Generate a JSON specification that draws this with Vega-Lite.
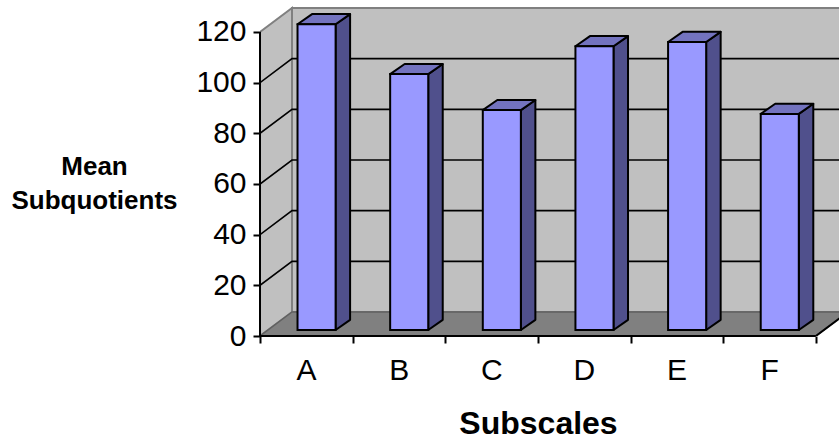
{
  "$schema": "https://vega.github.io/schema/vega-lite/v6.json",
  "autosize": {"type": "none"},
  "padding": {"left": 260, "top": 6, "right": 0, "bottom": 103},
  "width": 579,
  "height": 330,
  "background": "white",
  "view": {"stroke": null},
  "params": [
    {"name": "wallDx", "value": 0.3455},
    {"name": "wallDy", "value": 9.47},
    {"name": "barDx", "value": 0.1565},
    {"name": "barDy", "value": 4.0},
    {"name": "barBase", "value": 2.37},
    {"name": "barStart", "value": 0.405},
    {"name": "barWidth", "value": 0.411}
  ],
  "datasets": {
    "scores": [
      {"subscale": "A", "position": 0, "mean": 120.7},
      {"subscale": "B", "position": 1, "mean": 101},
      {"subscale": "C", "position": 2, "mean": 86.8},
      {"subscale": "D", "position": 3, "mean": 112},
      {"subscale": "E", "position": 4, "mean": 113.7},
      {"subscale": "F", "position": 5, "mean": 85.3}
    ],
    "grid": [{"level": 20}, {"level": 40}, {"level": 60}, {"level": 80}, {"level": 100}],
    "box": [{"origin": 0, "low": 0, "high": 120, "right": 6}]
  },
  "layer": [
    {
      "data": {"name": "box"},
      "transform": [{"calculate": "[0,1]", "as": "t"}, {"flatten": ["t"]},
        {"calculate": "datum.t * wallDx", "as": "px"},
        {"calculate": "datum.low + datum.t * wallDy", "as": "py"},
        {"calculate": "datum.high + datum.t * wallDy", "as": "py2"}],
      "mark": {"type": "area", "orient": "vertical", "color": "#c0c0c0", "stroke": "#808080", "strokeWidth": 2, "clip": true},
      "encoding": {
        "x": {"field": "px", "type": "quantitative",
          "scale": {"domain": [0, 6.25], "nice": false, "zero": false},
          "axis": {"values": [0, 1, 2, 3, 4, 5, 6], "grid": false, "zindex": 2, "domain": false,
            "labelExpr": "['A','B','C','D','E','F',''][datum.value]",
            "labelOffset": 46, "labelFlush": false, "labelOverlap": false, "labelFont": "Liberation Sans", "labelFontSize": 30, "labelColor": "black", "labelPadding": 12,
            "tickColor": "black", "tickSize": 7, "tickWidth": 2,
            "title": "Subscales", "titleFont": "Liberation Sans", "titleFontSize": 32, "titleFontWeight": "bold", "titleColor": "black",
            "titleX": 278, "titleY": 97, "titleAlign": "center", "titleBaseline": "alphabetic"}},
        "y": {"field": "py", "type": "quantitative",
          "scale": {"domain": [0, 130.26], "nice": false, "zero": false},
          "axis": {"values": [0, 20, 40, 60, 80, 100, 120], "grid": false, "zindex": 2, "domain": false,
            "labelFont": "Liberation Sans", "labelFontSize": 30, "labelColor": "black", "labelPadding": 7,
            "tickColor": "black", "tickSize": 7, "tickWidth": 2,
            "title": ["Mean", "Subquotients"], "titleFont": "Liberation Sans", "titleFontSize": 26, "titleFontWeight": "bold", "titleColor": "black", "titleLineHeight": 34,
            "titleAngle": 0, "titleX": -166, "titleY": 168, "titleAlign": "center", "titleBaseline": "alphabetic"}},
        "y2": {"field": "py2"}
      }
    },
    {
      "data": {"name": "box"},
      "transform": [{"calculate": "datum.low + wallDy", "as": "py"}, {"calculate": "datum.high + wallDy", "as": "py2"},
        {"calculate": "wallDx", "as": "px"}, {"calculate": "datum.right + wallDx", "as": "px2"}],
      "mark": {"type": "rect", "color": "#c0c0c0", "stroke": "#808080", "strokeWidth": 2, "clip": true},
      "encoding": {
        "x": {"field": "px", "type": "quantitative", "scale": {"domain": [0, 6.25], "nice": false, "zero": false}},
        "x2": {"field": "px2"},
        "y": {"field": "py", "type": "quantitative", "scale": {"domain": [0, 130.26], "nice": false, "zero": false}},
        "y2": {"field": "py2"}
      }
    },
    {
      "data": {"name": "box"},
      "transform": [{"calculate": "[0,1]", "as": "t"}, {"flatten": ["t"]},
        {"calculate": "datum.low + datum.t * wallDy", "as": "py"},
        {"calculate": "datum.t * wallDx", "as": "px"},
        {"calculate": "datum.right + datum.t * wallDx", "as": "px2"}],
      "mark": {"type": "area", "orient": "horizontal", "color": "#808080", "stroke": "#606060", "strokeWidth": 1.5, "clip": true},
      "encoding": {
        "y": {"field": "py", "type": "quantitative", "scale": {"domain": [0, 130.26], "nice": false, "zero": false}},
        "x": {"field": "px", "type": "quantitative", "scale": {"domain": [0, 6.25], "nice": false, "zero": false}},
        "x2": {"field": "px2"}
      }
    },
    {
      "data": {"name": "grid"},
      "transform": [{"calculate": "[0,1,2]", "as": "t"}, {"flatten": ["t"]},
        {"calculate": "datum.t == 0 ? 0 : datum.t == 1 ? wallDx : 6.5", "as": "px"},
        {"calculate": "datum.t == 0 ? datum.level : datum.level + wallDy", "as": "py"}],
      "mark": {"type": "line", "color": "black", "strokeWidth": 1.6, "clip": true},
      "encoding": {
        "x": {"field": "px", "type": "quantitative", "scale": {"domain": [0, 6.25], "nice": false, "zero": false}},
        "y": {"field": "py", "type": "quantitative", "scale": {"domain": [0, 130.26], "nice": false, "zero": false}},
        "detail": {"field": "level"},
        "order": {"field": "t"}
      }
    },
    {
      "data": {"name": "box"},
      "transform": [{"calculate": "[0,1]", "as": "t"}, {"flatten": ["t"]},
        {"calculate": "datum.right + datum.t * wallDx", "as": "px"},
        {"calculate": "datum.low + datum.t * wallDy", "as": "py"}],
      "mark": {"type": "line", "color": "black", "strokeWidth": 2, "clip": true},
      "encoding": {
        "x": {"field": "px", "type": "quantitative", "scale": {"domain": [0, 6.25], "nice": false, "zero": false}},
        "y": {"field": "py", "type": "quantitative", "scale": {"domain": [0, 130.26], "nice": false, "zero": false}},
        "order": {"field": "t"}
      }
    },
    {
      "data": {"name": "box"},
      "mark": {"type": "rule", "color": "black", "strokeWidth": 2},
      "encoding": {
        "x": {"field": "origin", "type": "quantitative", "scale": {"domain": [0, 6.25], "nice": false, "zero": false}},
        "y": {"field": "low", "type": "quantitative", "scale": {"domain": [0, 130.26], "nice": false, "zero": false}},
        "y2": {"field": "high"}
      }
    },
    {
      "data": {"name": "box"},
      "mark": {"type": "rule", "color": "black", "strokeWidth": 2},
      "encoding": {
        "y": {"field": "low", "type": "quantitative", "scale": {"domain": [0, 130.26], "nice": false, "zero": false}},
        "x": {"field": "origin", "type": "quantitative", "scale": {"domain": [0, 6.25], "nice": false, "zero": false}},
        "x2": {"field": "right"}
      }
    },
    {
      "data": {"name": "scores"},
      "transform": [{"calculate": "[0,1]", "as": "t"}, {"flatten": ["t"]},
        {"calculate": "datum.position + barStart + barWidth + datum.t * barDx", "as": "px"},
        {"calculate": "barBase + datum.mean + datum.t * barDy", "as": "py"},
        {"calculate": "barBase + datum.t * barDy", "as": "py2"}],
      "mark": {"type": "area", "orient": "vertical", "color": "#50508c", "stroke": "black", "strokeWidth": 2, "strokeJoin": "round"},
      "encoding": {
        "x": {"field": "px", "type": "quantitative", "scale": {"domain": [0, 6.25], "nice": false, "zero": false}},
        "y": {"field": "py", "type": "quantitative", "scale": {"domain": [0, 130.26], "nice": false, "zero": false}},
        "y2": {"field": "py2"},
        "detail": {"field": "subscale"}
      }
    },
    {
      "data": {"name": "scores"},
      "transform": [{"calculate": "[0,1]", "as": "t"}, {"flatten": ["t"]},
        {"calculate": "barBase + datum.mean + datum.t * barDy", "as": "py"},
        {"calculate": "datum.position + barStart + datum.t * barDx", "as": "px"},
        {"calculate": "datum.position + barStart + barWidth + datum.t * barDx", "as": "px2"}],
      "mark": {"type": "area", "orient": "horizontal", "color": "#7373bf", "stroke": "black", "strokeWidth": 2, "strokeJoin": "round"},
      "encoding": {
        "y": {"field": "py", "type": "quantitative", "scale": {"domain": [0, 130.26], "nice": false, "zero": false}},
        "x": {"field": "px", "type": "quantitative", "scale": {"domain": [0, 6.25], "nice": false, "zero": false}},
        "x2": {"field": "px2"},
        "detail": {"field": "subscale"}
      }
    },
    {
      "data": {"name": "scores"},
      "transform": [
        {"calculate": "datum.position + barStart", "as": "px"},
        {"calculate": "datum.position + barStart + barWidth", "as": "px2"},
        {"calculate": "barBase + datum.mean", "as": "py"},
        {"calculate": "barBase", "as": "py2"}],
      "mark": {"type": "rect", "color": "#9999ff", "stroke": "black", "strokeWidth": 2},
      "encoding": {
        "x": {"field": "px", "type": "quantitative", "scale": {"domain": [0, 6.25], "nice": false, "zero": false}},
        "x2": {"field": "px2"},
        "y": {"field": "py", "type": "quantitative", "scale": {"domain": [0, 130.26], "nice": false, "zero": false}},
        "y2": {"field": "py2"}
      }
    }
  ]
}
